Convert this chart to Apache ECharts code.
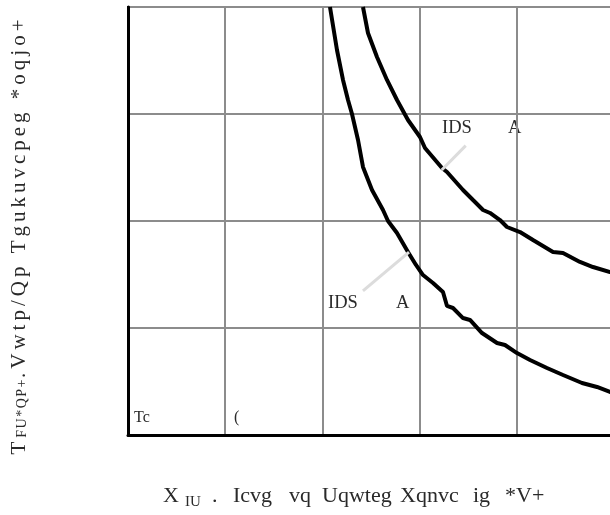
<!DOCTYPE html>
<html>
<head>
<meta charset="utf-8">
<script src="https://cdn.jsdelivr.net/npm/echarts@6/dist/echarts.min.js"></script>
<style>
  html, body { margin: 0; padding: 0; background: #fff; }
  #chart { width: 610px; height: 515px; }
</style>
</head>
<body>
<div id="chart"></div>
<script>
// 曲线数据 (VGS, RDS)
const curveLowX = [4.156, 4.300, 4.424, 4.527, 4.609, 4.733, 4.835, 5.021, 5.247, 5.350, 5.535, 5.761, 5.926, 6.070, 6.276, 6.481, 6.564, 6.687, 6.893, 7.037, 7.284, 7.593, 7.757, 8.004, 8.272, 8.621, 8.951, 9.342, 9.650, 9.918, 10.0];
const curveLowY = [40.0, 35.98, 33.18, 31.31, 30.0, 27.57, 25.05, 22.90, 21.03, 20.0, 18.88, 17.10, 15.89, 14.95, 14.21, 13.36, 12.06, 11.87, 10.93, 10.75, 9.53, 8.60, 8.41, 7.66, 7.01, 6.26, 5.61, 4.86, 4.49, 4.02, 3.93];
const curveHighX = [4.835, 4.938, 5.123, 5.329, 5.535, 5.761, 6.008, 6.111, 6.461, 6.564, 6.893, 7.099, 7.305, 7.449, 7.654, 7.798, 8.066, 8.333, 8.745, 8.951, 9.300, 9.568, 9.918, 10.0];
const curveHighY = [40.0, 37.57, 35.33, 33.18, 31.31, 29.44, 27.85, 26.82, 24.95, 24.58, 22.90, 21.96, 21.03, 20.75, 20.09, 19.44, 18.97, 18.22, 17.10, 17.01, 16.17, 15.70, 15.23, 15.14];

// 引线 (标注)
const leaderHigh = [[6.455, 24.77], [6.949, 27.04]];
const leaderLow = [[4.835, 13.46], [5.782, 17.10]];

// x轴标题分词
const xTitleWords = ['X', 'IU', '.', 'Icvg', 'vq', 'Uqwteg', 'Xqnvc', 'ig', '*V+'];

const serif = "'Liberation Serif', 'DejaVu Serif', serif";

function zip(xs, ys) {
  return xs.map((x, i) => [x, ys[i]]);
}

function leader(pts) {
  return {
    silent: true,
    symbol: 'none',
    label: { show: false },
    lineStyle: { color: '#dcdcdc', width: 3, type: 'solid' },
    data: [[{ coord: pts[0] }, { coord: pts[1] }]]
  };
}

// 字间距
function spaced(str, cls) {
  return str.split('').map(c => c === ' ' ? '{' + cls + '| }' : '{' + cls + '|' + c + '}').join('');
}

function txt(s, left, top, size) {
  return { type: 'text', left: left, top: top, style: { text: s, font: size + 'px ' + serif, fill: '#2a2a2a' } };
}

const xPos = [163, 185, 212, 233, 289, 322, 400, 473, 505];
const xTitle = xTitleWords.map((w, i) => i === 1
  ? txt(w, xPos[i], 495, 15)
  : txt(w, xPos[i], 485, 22));

const chart = echarts.init(document.getElementById('chart'));
chart.setOption({
  animation: false,
  backgroundColor: '#fff',
  grid: {
    left: 128,
    top: 7,
    width: 486,
    height: 428,
    outerBoundsMode: 'none',
    containLabel: false,
    show: true,
    borderColor: '#000',
    borderWidth: 2
  },
  xAxis: {
    type: 'value',
    min: 0,
    max: 10,
    interval: 2,
    axisLine: { show: true, lineStyle: { color: '#000', width: 3 } },
    axisTick: { show: false },
    axisLabel: { show: false },
    splitLine: { show: true, lineStyle: { color: '#8c8c8c', width: 2 } }
  },
  yAxis: {
    type: 'value',
    min: 0,
    max: 40,
    interval: 10,
    axisLine: { show: true, lineStyle: { color: '#000', width: 3 } },
    axisTick: { show: false },
    axisLabel: { show: false },
    splitLine: { show: true, lineStyle: { color: '#8c8c8c', width: 2 } }
  },
  series: [
    {
      type: 'line',
      data: zip(curveLowX, curveLowY),
      symbol: 'none',
      lineStyle: { color: '#000', width: 4 },
      markLine: leader(leaderLow)
    },
    {
      type: 'line',
      data: zip(curveHighX, curveHighY),
      symbol: 'none',
      lineStyle: { color: '#000', width: 4 },
      markLine: leader(leaderHigh)
    }
  ],
  graphic: [
    txt('IDS', 442, 119, 18.5),
    txt('A', 508, 119, 18.5),
    txt('IDS', 328, 294, 18.5),
    txt('A', 396, 294, 18.5),
    txt('Tc', 134, 410, 16),
    txt('(', 234, 410, 16),
    ...xTitle,
    {
      type: 'text',
      x: 19,
      y: 235,
      rotation: Math.PI / 2,
      style: {
        text: spaced('T', 'a') + spaced('FU*QP+', 'b') + spaced('.Vwtp/Qp Tgukuvcpeg *oqjo+', 'a'),
        align: 'center',
        verticalAlign: 'middle',
        fill: '#2a2a2a',
        rich: {
          a: { fontFamily: serif, fontSize: 21, fill: '#2a2a2a', padding: [0, 4, 0, 0] },
          b: { fontFamily: serif, fontSize: 14, fill: '#2a2a2a', verticalAlign: 'bottom', padding: [0, 1.5, 0, 0] }
        }
      }
    }
  ]
});
</script>
</body>
</html>
